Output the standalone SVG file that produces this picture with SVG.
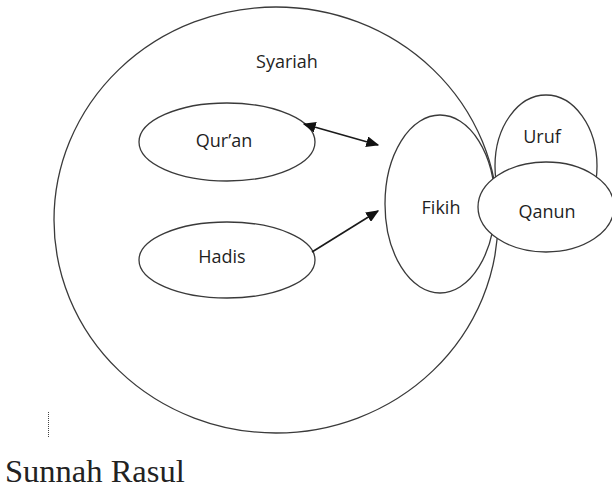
<svg xmlns="http://www.w3.org/2000/svg" width="612" height="488" viewBox="0 0 612 488">
<style>
.n{fill:none;stroke:#3a3a3a;stroke-width:1.3}
.w{fill:#fff;stroke:#3a3a3a;stroke-width:1.3}
.t{font-family:"Open Sans","Liberation Sans",sans-serif;font-size:18px;fill:#1f1f1f;text-anchor:middle}
.c{stroke:#1a1a1a;stroke-width:1.6;fill:none}
</style>
<defs>
<marker id="ah" viewBox="0 0 10 10" refX="9" refY="5" markerWidth="13" markerHeight="11" markerUnits="userSpaceOnUse" orient="auto-start-reverse" preserveAspectRatio="none">
<path d="M0,0 L10,5 L0,10 z" fill="#111"/>
</marker>
</defs>
<rect width="612" height="488" fill="#fff"/>
<g id="syariah">
<ellipse class="n" cx="276" cy="220" rx="222" ry="213"/>
<text class="t" x="287" y="68">Syariah</text>
</g>
<g id="quran">
<ellipse class="n" cx="227" cy="142" rx="88" ry="39"/>
<text class="t" x="224" y="147">Qur’an</text>
</g>
<g id="hadis">
<ellipse class="n" cx="227" cy="260" rx="88" ry="38"/>
<text class="t" x="222" y="263">Hadis</text>
</g>
<g id="fikih">
<ellipse class="n" cx="440" cy="204" rx="55" ry="89"/>
<text class="t" x="441" y="214">Fikih</text>
</g>
<g id="uruf">
<ellipse class="n" cx="546" cy="166" rx="51" ry="71"/>
<text class="t" x="542" y="143">Uruf</text>
</g>
<g id="qanun">
<ellipse class="w" cx="546" cy="207" rx="68" ry="45"/>
<text class="t" x="547" y="218">Qanun</text>
</g>
<g id="connectors">
<line class="c" x1="304" y1="124" x2="378" y2="145" marker-start="url(#ah)" marker-end="url(#ah)"/>
<line class="c" x1="312" y1="252" x2="378" y2="211" marker-end="url(#ah)"/>
</g>
<line x1="48.5" y1="412" x2="48.5" y2="438" stroke="#444" stroke-width="1" stroke-dasharray="1,1"/>
<text x="5" y="482" font-family="'Liberation Serif',serif" font-size="32.5" fill="#222">Sunnah Rasul</text>
</svg>
